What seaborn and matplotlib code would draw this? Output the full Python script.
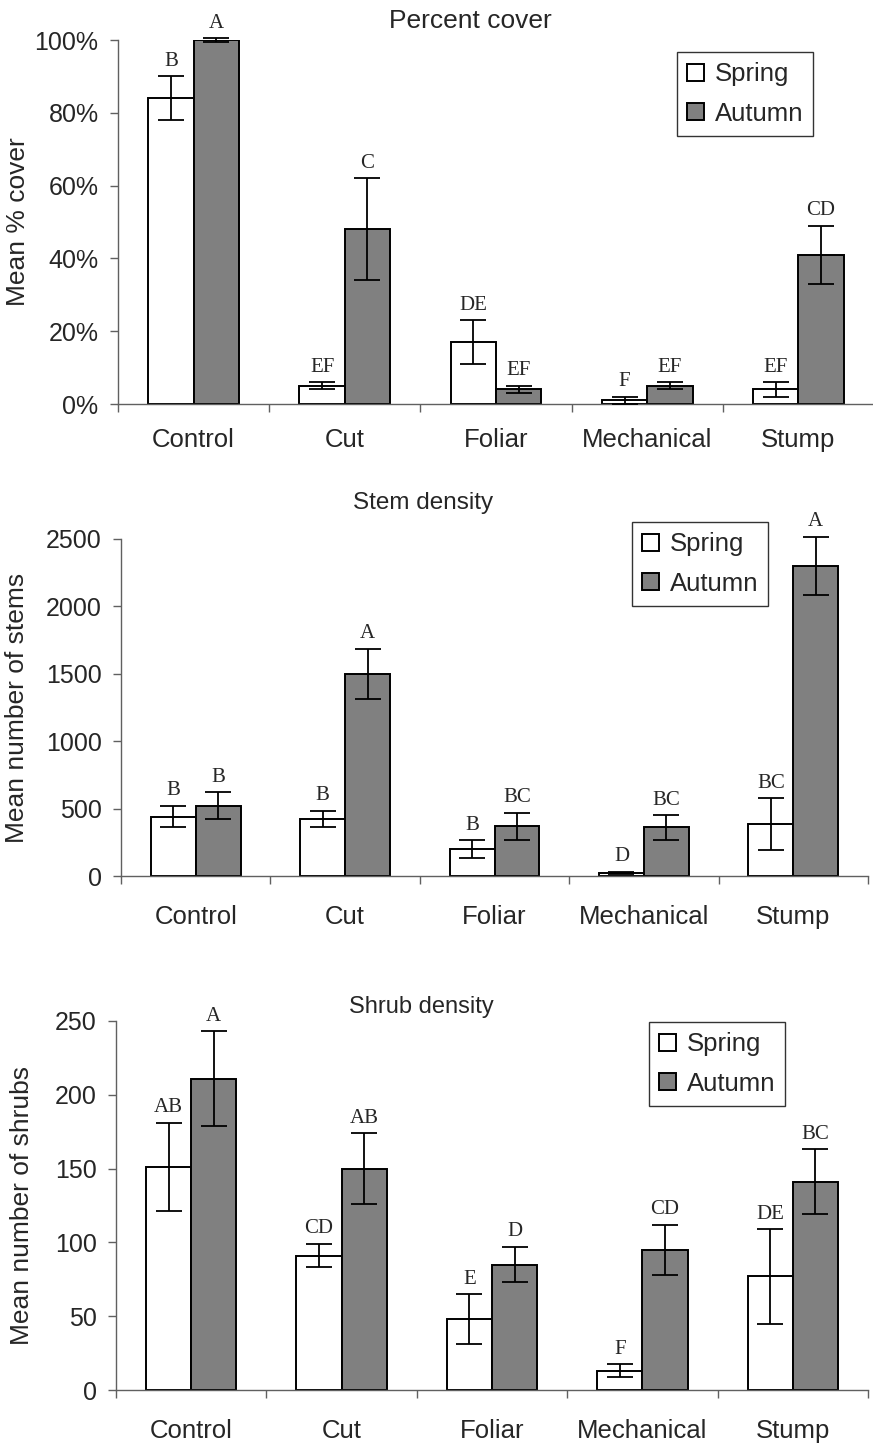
import pandas as pd
import numpy as np
import matplotlib
matplotlib.use("Agg")
import matplotlib.pyplot as plt
import seaborn as sns
from matplotlib.ticker import PercentFormatter, FixedLocator

# ---- data ----
treatments = ["Control", "Cut", "Foliar", "Mechanical", "Stump"]
seasons = ["Spring", "Autumn"]

cover_spring = [84, 5, 17, 1, 4]
cover_autumn = [100, 48, 4, 5, 41]
cover_spring_se = [6, 1, 6, 1, 2]
cover_autumn_se = [0.5, 14, 1, 1, 8]
cover_spring_let = ["B", "EF", "DE", "F", "EF"]
cover_autumn_let = ["A", "C", "EF", "EF", "CD"]

stems_spring = [440, 425, 200, 25, 385]
stems_autumn = [520, 1500, 370, 360, 2300]
stems_spring_se = [80, 60, 65, 8, 190]
stems_autumn_se = [100, 185, 100, 90, 215]
stems_spring_let = ["B", "B", "B", "D", "BC"]
stems_autumn_let = ["B", "A", "BC", "BC", "A"]

shrubs_spring = [151, 91, 48, 13, 77]
shrubs_autumn = [211, 150, 85, 95, 141]
shrubs_spring_se = [30, 8, 17, 4.5, 32]
shrubs_autumn_se = [32, 24, 12, 17, 22]
shrubs_spring_let = ["AB", "CD", "E", "F", "DE"]
shrubs_autumn_let = ["A", "AB", "D", "CD", "BC"]

W, H = 873, 1447
sns.set_theme(style="white")
plt.rcParams["font.family"] = ["Liberation Sans", "DejaVu Sans"]

fig = plt.figure(figsize=(W / 100, H / 100), dpi=100)

panels = [
    dict(title="Percent cover", ylabel="Mean % cover",
         sp=cover_spring, au=cover_autumn, sp_se=cover_spring_se, au_se=cover_autumn_se,
         sp_let=cover_spring_let, au_let=cover_autumn_let,
         ymax=100, step=20, pct=True, title_size=19, xpad=17,
         box=(118, 874, 40, 404), title_xy=(470, 21), ylab_x=18, legend_xy=(677, 52)),
    dict(title="Stem density", ylabel="Mean number of stems",
         sp=stems_spring, au=stems_autumn, sp_se=stems_spring_se, au_se=stems_autumn_se,
         sp_let=stems_spring_let, au_let=stems_autumn_let,
         ymax=2500, step=500, pct=False, title_size=17.5, xpad=21,
         box=(121, 868, 539, 876), title_xy=(423, 503), ylab_x=17, legend_xy=(632, 522)),
    dict(title="Shrub density", ylabel="Mean number of shrubs",
         sp=shrubs_spring, au=shrubs_autumn, sp_se=shrubs_spring_se, au_se=shrubs_autumn_se,
         sp_let=shrubs_spring_let, au_let=shrubs_autumn_let,
         ymax=250, step=50, pct=False, title_size=17, xpad=21,
         box=(116, 868, 1021, 1390), title_xy=(421, 1007), ylab_x=22, legend_xy=(649, 1022)),
]

axis_col = "#606060"

for p in panels:
    x0, x1, y0, y1 = p["box"]
    ax = fig.add_axes([x0 / W, 1 - y1 / H, (x1 - x0) / W, (y1 - y0) / H])

    df = pd.DataFrame({
        "treatment": treatments * 2,
        "season": ["Spring"] * 5 + ["Autumn"] * 5,
        "value": list(p["sp"]) + list(p["au"]),
    })
    sns.barplot(data=df, x="treatment", y="value", hue="season", order=treatments,
                hue_order=seasons, palette=["white", "#808080"], saturation=1,
                width=0.6, errorbar=None, edgecolor="black", linewidth=1.4, ax=ax)

    # error bars and significance letters, centred on seaborn's bars
    for cont, vals, errs, lets in zip(ax.containers[:2],
                                      [p["sp"], p["au"]],
                                      [p["sp_se"], p["au_se"]],
                                      [p["sp_let"], p["au_let"]]):
        xs = [b.get_x() + b.get_width() / 2 for b in cont]
        ax.errorbar(xs, vals, yerr=errs, fmt="none", ecolor="black",
                    elinewidth=1.3, capsize=9.5, capthick=1.3, clip_on=False, zorder=5)
        for x, v, e, l in zip(xs, vals, errs, lets):
            ax.annotate(l, xy=(x, v + e), xytext=(0, 4), textcoords="offset points",
                        ha="center", va="bottom", fontsize=15,
                        family=["Liberation Serif", "DejaVu Serif"], annotation_clip=False)

    ax.set_ylim(0, p["ymax"])
    ax.set_xlim(-0.5, len(treatments) - 0.5)
    ax.set_yticks(np.arange(0, p["ymax"] + 1, p["step"]))
    if p["pct"]:
        ax.yaxis.set_major_formatter(PercentFormatter(xmax=100, decimals=0))

    # Excel-style ticks between categories, labels at centres
    ax.xaxis.set_major_locator(FixedLocator(np.arange(-0.5, len(treatments), 1.0)))
    ax.xaxis.set_minor_locator(FixedLocator(np.arange(len(treatments))))
    ax.set_xticklabels([], minor=False)
    ax.set_xticklabels(treatments, minor=True)
    ax.tick_params(axis="x", which="major", direction="out", length=6, width=1,
                   color=axis_col, bottom=True)
    ax.tick_params(axis="x", which="minor", length=0, pad=p["xpad"], labelsize=18.5,
                   bottom=True)
    ax.tick_params(axis="y", direction="out", length=6, width=1, color=axis_col,
                   pad=8, labelsize=18, left=True)

    for s in ["top", "right"]:
        ax.spines[s].set_visible(False)
    for s in ["left", "bottom"]:
        ax.spines[s].set_color(axis_col)
        ax.spines[s].set_linewidth(1)

    ax.set_xlabel("")
    ax.set_ylabel(p["ylabel"], fontsize=19, va="center")
    ax.yaxis.set_label_coords((p["ylab_x"] - x0) / (x1 - x0), 0.5)

    leg = ax.legend(ax.containers[:2], seasons, loc="upper left",
                    bbox_to_anchor=(p["legend_xy"][0] / W, 1 - p["legend_xy"][1] / H),
                    bbox_transform=fig.transFigure, fontsize=18.5, frameon=True,
                    fancybox=False, shadow=False, handlelength=0.66, handleheight=0.66,
                    handletextpad=0.4, labelspacing=0.6, borderpad=0.4,
                    borderaxespad=0)
    leg.get_frame().set_edgecolor("black")
    leg.get_frame().set_linewidth(1)

    fig.text(p["title_xy"][0] / W, 1 - p["title_xy"][1] / H, p["title"],
             ha="center", va="center", fontsize=p["title_size"])

fig.savefig("out.png", dpi=100)
